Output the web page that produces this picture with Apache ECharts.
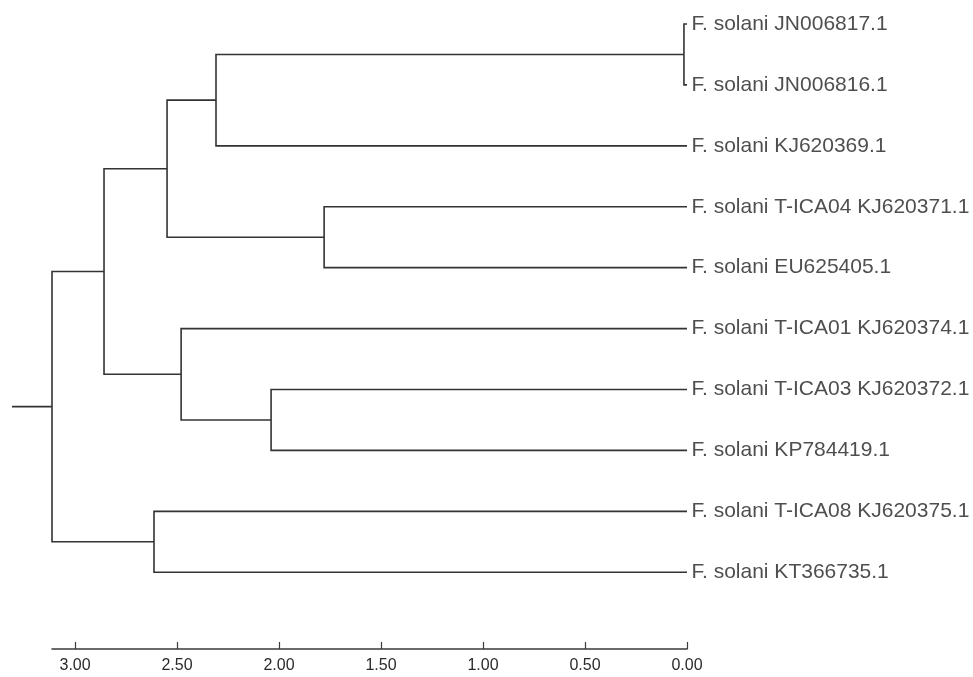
<!DOCTYPE html>
<html>
<head>
<meta charset="utf-8">
<style>
  html, body { margin: 0; padding: 0; background: #fff; }
  #chart { width: 973px; height: 677px; }
</style>
<script src="https://cdn.jsdelivr.net/npm/echarts@6/dist/echarts.min.js"></script>
</head>
<body>
<div id="chart"></div>
<script>
// Leaves (top to bottom)
const leafNames = [
  'F. solani JN006817.1',
  'F. solani JN006816.1',
  'F. solani KJ620369.1',
  'F. solani T-ICA04 KJ620371.1',
  'F. solani EU625405.1',
  'F. solani T-ICA01 KJ620374.1',
  'F. solani T-ICA03 KJ620372.1',
  'F. solani KP784419.1',
  'F. solani T-ICA08 KJ620375.1',
  'F. solani KT366735.1'
];
// Linkage: internal node ids start at 10 (leaves are 0..9)
const mergeA = [0, 10, 3, 11, 6, 5, 13, 8, 16];
const mergeB = [1, 2, 4, 12, 7, 14, 15, 9, 17];
const mergeHeight = [0.015, 2.309, 1.779, 2.549, 2.039, 2.480, 2.858, 2.613, 3.113];
const rootStemEnd = 3.309;
const tickValues = [0, 0.5, 1, 1.5, 2, 2.5, 3];

// build node coordinates
const nLeaf = leafNames.length;
const nodeX = [], nodeY = [];
for (let i = 0; i < nLeaf; i++) { nodeX.push(0); nodeY.push(i); }
const branchData = [];
for (let k = 0; k < mergeA.length; k++) {
  const a = mergeA[k], b = mergeB[k], h = mergeHeight[k];
  branchData.push([nodeX[a], nodeY[a], h, nodeY[b], nodeX[b]]);
  nodeX.push(h);
  nodeY.push((nodeY[a] + nodeY[b]) / 2);
}
const rootId = nodeX.length - 1;
const stemData = [[nodeX[rootId], nodeY[rootId], rootStemEnd, nodeY[rootId], rootStemEnd]];

const lineColor = '#333333';

const chart = echarts.init(document.getElementById('chart'));
chart.setOption({
  animation: false,
  backgroundColor: '#ffffff',
  grid: { left: 52, right: 286, top: 24, bottom: 28 },
  xAxis: {
    type: 'value',
    position: 'bottom',
    inverse: true,
    min: 0,
    max: mergeHeight[mergeHeight.length - 1],
    splitLine: { show: false },
    axisLine: { show: true, onZero: false, lineStyle: { color: '#3a3a3a', width: 1.6 } },
    axisTick: { show: true, inside: true, length: 7, customValues: tickValues, lineStyle: { color: '#3a3a3a', width: 1.2 } },
    axisLabel: {
      customValues: tickValues,
      formatter: v => v.toFixed(2),
      fontFamily: '"Liberation Sans", Arial, sans-serif',
      fontSize: 16,
      color: '#2a2a2a',
      margin: 9
    }
  },
  yAxis: {
    type: 'value',
    inverse: true,
    min: 0,
    max: 10.26,
    show: false
  },
  series: [
    {
      type: 'custom',
      clip: false,
      data: branchData.concat(stemData),
      encode: { x: [0, 2, 4], y: [1, 3] },
      renderItem: function (params, api) {
        const p1 = api.coord([api.value(0), api.value(1)]);
        const p2 = api.coord([api.value(2), api.value(1)]);
        const p3 = api.coord([api.value(2), api.value(3)]);
        const p4 = api.coord([api.value(4), api.value(3)]);
        return {
          type: 'polyline',
          shape: { points: [p1, p2, p3, p4] },
          style: { fill: null, stroke: lineColor, lineWidth: 1.6 }
        };
      }
    },
    {
      type: 'scatter',
      symbolSize: 1,
      itemStyle: { color: 'rgba(0,0,0,0)' },
      clip: false,
      data: leafNames.map((n, i) => [0, i]),
      label: {
        show: true,
        position: 'right',
        distance: 4,
        formatter: p => leafNames[p.dataIndex],
        fontFamily: '"Liberation Sans", Arial, sans-serif',
        fontSize: 21,
        color: '#222'
      }
    }
  ]
});
</script>
</body>
</html>
